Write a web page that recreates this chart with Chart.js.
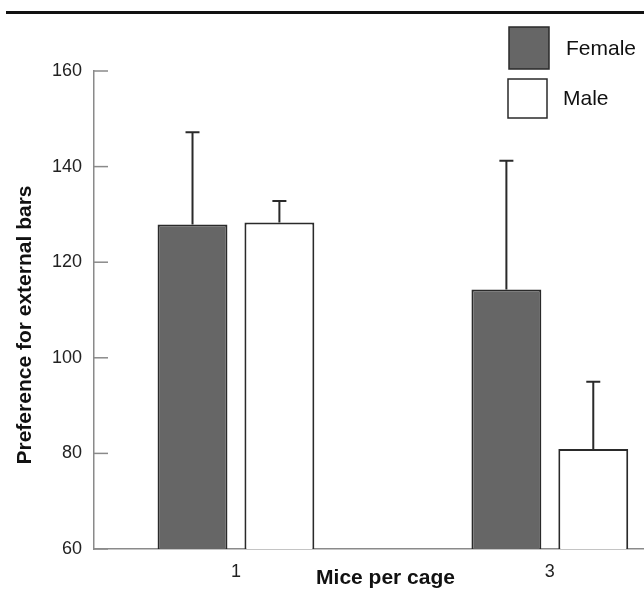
<!DOCTYPE html>
<html><head><meta charset="utf-8">
<script src="https://cdn.jsdelivr.net/npm/chart.js@4.4.1/dist/chart.umd.min.js"></script>
<style>html,body{margin:0;padding:0;background:#fff}#wrap{width:644px;height:590px}</style>
</head><body><div id="wrap"><canvas id="c" width="644" height="590"></canvas></div>
<script>
// ---- data ----
const miceLabels = [1, 3];
const femaleMeans = [127.9, 114.3];
const femaleErrors = [19.3, 26.9];
const maleMeans = [128.3, 80.9];
const maleErrors = [4.5, 14.1];
const yTicks = [60, 80, 100, 120, 140, 160];
const seriesNames = ['Female', 'Male'];
const xTitle = 'Mice per cage';
const yTitle = 'Preference for external bars';

const FONT = '"Liberation Sans", Arial, Helvetica, sans-serif';
const AXIS = '#8a8a8a';
const INK = '#2a2a2a';

const decor = {
  id: 'decor',
  beforeDraw(chart) {
    const ctx = chart.ctx;
    ctx.save();
    ctx.fillStyle = '#fff';
    ctx.fillRect(0, 0, chart.width, chart.height);
    ctx.fillStyle = '#111';
    ctx.fillRect(6, 11, chart.width - 6, 3);
    ctx.restore();
  },
  afterDatasetsDraw(chart) {
    const ctx = chart.ctx, ys = chart.scales.y;
    ctx.save();
    ctx.strokeStyle = INK; ctx.lineWidth = 2;
    chart.data.datasets.forEach((ds, di) => {
      chart.getDatasetMeta(di).data.forEach((el, i) => {
        const top = ys.getPixelForValue(ds.data[i].y + ds.errors[i]);
        ctx.beginPath();
        ctx.moveTo(el.x, el.y); ctx.lineTo(el.x, top);
        ctx.moveTo(el.x - 7, top); ctx.lineTo(el.x + 7, top);
        ctx.stroke();
      });
    });
    ctx.restore();
  },
  afterDraw(chart) {
    const ctx = chart.ctx, ys = chart.scales.y, xs = chart.scales.x;
    ctx.save();
    // inward tick marks on the y axis
    ctx.strokeStyle = AXIS; ctx.lineWidth = 1.5;
    ys.ticks.forEach(t => {
      const py = ys.getPixelForValue(t.value);
      ctx.beginPath(); ctx.moveTo(ys.right, py); ctx.lineTo(ys.right + 14, py); ctx.stroke();
    });
    // axis titles
    ctx.fillStyle = '#111';
    ctx.font = 'bold 21px ' + FONT;
    ctx.textAlign = 'center'; ctx.textBaseline = 'alphabetic';
    ctx.fillText(xTitle, xs.left + 291.5, 584);
    ctx.save();
    ctx.translate(31, ys.top + 254);
    ctx.rotate(-Math.PI / 2);
    ctx.fillText(yTitle, 0, 0);
    ctx.restore();
    // legend
    const boxes = [{x: 509, y: 27, w: 40, h: 42, tx: 566, ty: 49.5}, {x: 508, y: 79, w: 39, h: 39, tx: 563, ty: 99}];
    ctx.font = '21px ' + FONT;
    ctx.textAlign = 'left'; ctx.textBaseline = 'middle';
    chart.data.datasets.forEach((ds, i) => {
      const b = boxes[i];
      ctx.fillStyle = ds.backgroundColor;
      ctx.fillRect(b.x, b.y, b.w, b.h);
      ctx.strokeStyle = ds.borderColor; ctx.lineWidth = 1.5;
      ctx.strokeRect(b.x, b.y, b.w, b.h);
      ctx.fillStyle = '#111';
      ctx.fillText(ds.label, b.tx, b.ty);
    });
    ctx.restore();
  }
};

const common = {borderColor: INK, borderWidth: 2, borderSkipped: false, categoryPercentage: 0.5536, barPercentage: 0.8046};

new Chart(document.getElementById('c'), {
  type: 'bar',
  data: {
    datasets: [
      Object.assign({label: seriesNames[0], data: miceLabels.map((m, i) => ({x: m, y: femaleMeans[i]})), errors: femaleErrors, backgroundColor: '#666666'}, common),
      Object.assign({label: seriesNames[1], data: miceLabels.map((m, i) => ({x: m, y: maleMeans[i]})), errors: maleErrors, backgroundColor: '#ffffff'}, common)
    ]
  },
  options: {
    responsive: false,
    devicePixelRatio: 1,
    animation: false,
    layout: {padding: {top: 71, left: 0, right: 0, bottom: 0}},
    plugins: {legend: {display: false}, tooltip: {enabled: false}, title: {display: false}},
    scales: {
      x: {
        type: 'linear', min: 0.0955, max: 3.6, offset: false,
        grid: {display: false, drawTicks: false},
        border: {display: true, color: AXIS, width: 1.5},
        ticks: {font: {family: FONT, size: 18}, color: '#222', padding: 12, callback: v => String(v)},
        afterBuildTicks: s => { s.ticks = miceLabels.map(v => ({value: v})); },
        afterFit: s => { s.height = 41; }
      },
      y: {
        min: 60, max: 160,
        grid: {display: false, drawTicks: false},
        border: {display: true, color: AXIS, width: 1.5},
        ticks: {font: {family: FONT, size: 18}, color: '#222', padding: 12},
        afterBuildTicks: s => { s.ticks = yTicks.map(v => ({value: v})); },
        afterFit: s => { s.width = 94; }
      }
    }
  },
  plugins: [decor]
});
</script>
</body></html>
